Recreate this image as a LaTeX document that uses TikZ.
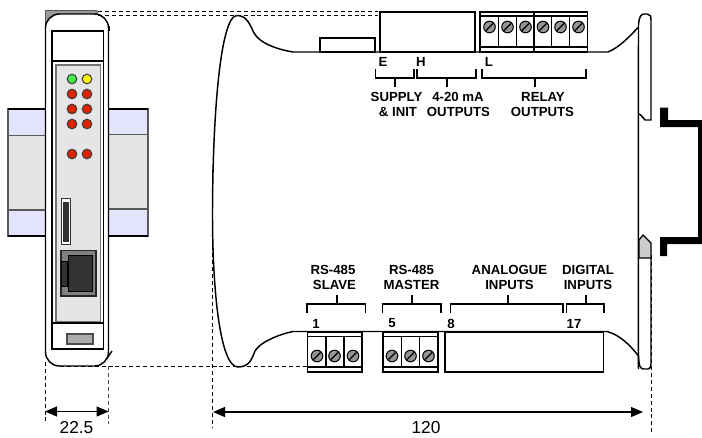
\documentclass[tikz,border=0pt]{standalone}
\usepackage{fontspec}
\setmainfont{Liberation Sans}
\usetikzlibrary{arrows.meta}
\newcommand{\screw}[2]{%
  \fill[black!42] (#1,#2) circle[radius=5.8];
  \draw[line width=0.75pt] (#1,#2) circle[radius=5.8];
  \draw[line width=0.9pt] (#1-3.6,#2+3.6) -- (#1+3.6,#2-3.6);}
\definecolor{ledred}{HTML}{DD2200}
\definecolor{ledgreen}{HTML}{44EE44}
\definecolor{wingblue}{HTML}{E3E3FB}
\tikzset{
  x=0.75pt,y=-0.75pt,
  body/.style={draw=black,line width=1.1pt},
  bracket/.style={draw=black,line width=0.85pt},
  dash line/.style={draw=black,line width=0.6pt,dash pattern=on 3pt off 2.2pt},
  lab/.style={font=\bfseries\fontsize{9.9}{11.2}\selectfont,align=center,inner sep=0pt},
  num/.style={font=\bfseries\fontsize{9.9}{11.2}\selectfont,inner sep=0pt},
  dim/.style={font=\fontsize{13}{14}\selectfont,inner sep=0pt},
  led/.style={draw=black!75,line width=0.8pt},
  dimarrow/.style={draw=black,line width=0.85pt,{Triangle[length=9pt,width=7.5pt]}-{Triangle[length=9pt,width=7.5pt]}},
}
\begin{document}
\begin{tikzpicture}
\useasboundingbox (0,0) rectangle (702,437);
% wings
\filldraw[fill=wingblue,draw=black!65,line width=0.9pt] (8,109) rectangle (46,236);
\filldraw[fill=black!10,draw=black!65,line width=0.9pt] (8,135.5) rectangle (46,210);
\draw[black,line width=0.9pt] (8,109)--(46,109) (8,236)--(46,236);
\filldraw[fill=wingblue,draw=black!65,line width=0.9pt] (108,109) rectangle (148,236);
\filldraw[fill=black!10,draw=black!65,line width=0.9pt] (108,134.5) rectangle (148,209);
\draw[black,line width=0.9pt] (108,109)--(148,109) (108,236)--(148,236);
% top tab
\filldraw[fill=black!40,draw=black!65,line width=0.6pt] (45.5,30)--(45.5,10.5)--(97,10.5)--(98,16)--(60,16)--cycle;
% front body
\filldraw[fill=white,draw=black,line width=1.1pt,rounded corners=10.5pt] (45.5,14) rectangle (108.5,366);
\draw[black,line width=0.8pt] (109.5,31)--(109.5,26);
\draw[black,line width=1pt] (112,351) .. controls (110,353) and (109,356) .. (107,359);
\draw[body] (52,31) rectangle (103.5,349);
\draw[body] (52,61)--(103.5,61);
\filldraw[fill=black!10,draw=black!55,line width=0.8pt] (56,65) rectangle (100.5,322);
\draw[body] (52,323)--(103.5,323);
\filldraw[fill=black!32,draw=black!70,line width=0.8pt] (67,334) rectangle (93,344);
% LEDs
\filldraw[led,fill=ledgreen] (72,79) circle[radius=4.8];
\filldraw[led,fill=yellow] (87,79) circle[radius=4.8];
\foreach \yy in {94,109,124,154}{
  \filldraw[led,fill=ledred] (72,\yy) circle[radius=4.8];
  \filldraw[led,fill=ledred] (87,\yy) circle[radius=4.8];}
% card slot
\filldraw[fill=white,draw=black!80,line width=0.7pt] (61.5,198.5) rectangle (70,244.5);
\fill[black!80] (62.5,202) rectangle (68.5,242);
% RJ45
\filldraw[fill=black!50,draw=black!85,line width=0.9pt] (61,250.5) rectangle (96,296);
\filldraw[fill=black!80,draw=black,line width=0.6pt] (68,255) rectangle (92,291);
\filldraw[fill=black!80,draw=black,line width=0.6pt] (61.5,261) rectangle (67.5,286);
% dashed guides
\coordinate (ta) at (98,11); \coordinate (tb) at (378,11);
\coordinate (tc) at (98,15.5); \coordinate (td) at (378,15.5);
\draw[dash line] (ta)--(tb) (tc)--(td);
\draw[dash line] (60,366)--(307,366);
\draw[dash line] (45.5,362)--(45.5,424);
\draw[dash line,draw=black!70] (108,366)--(108,424);
\draw[dash line] (212.5,170)--(212.5,428);
\draw[dash line] (651,255)--(651,432);
% side view outline
\draw[body] (212.5,215) .. controls (212.5,120) and (220,15.5) .. (237,15.5)
  .. controls (247,15.5) and (250,25) .. (254,33) .. controls (260,44) and (280,50) .. (293,52)
  -- (608,52) .. controls (620,47) and (630,36) .. (638.5,27);
\draw[body] (212.5,215) .. controls (212.5,290) and (220,367) .. (238,367)
  .. controls (250,367) and (252,358) .. (255,351) .. controls (260,342) and (280,334) .. (293,331.5)
  -- (607,331.5) .. controls (620,335) and (630,345) .. (638.5,356);
% flange
\draw[body] (638.5,369) .. controls (638,360) and (638.5,25) .. (638.5,25) .. controls (639,17) and (641,14) .. (644,14) -- (647,14) .. controls (650,14) and (651,16) .. (651,20) -- (651,120) -- (645,120) .. controls (643,118) and (641,114) .. (638.5,114);
\draw[body] (638.5,356) .. controls (639,366) and (640,369) .. (644,369) -- (648,369) .. controls (650,369) and (651,367) .. (651,364) -- (651,258);
\filldraw[fill=black!20,draw=black,line width=0.9pt] (639,258)--(639,240)--(643,235)--(651,243)--(651,258)--cycle;
% DIN rail
\fill[black] (660,107.5)--(668,107.5)--(668,120)--(702,120)--(702,244)--(667,244)--(667,256)--(660,256)--(660,237)--(698,237)--(698,127)--(660,127)--cycle;
% top boxes
\filldraw[fill=white,draw=black,line width=1.1pt] (320,38) rectangle (375,52);
\filldraw[fill=white,draw=black,line width=1.1pt] (380,12) rectangle (475,52);
% top terminal
\filldraw[fill=white,draw=black,line width=1.1pt] (480,12) rectangle (587.5,52);
\draw[body] (480,16)--(587.5,16) (480,47)--(587.5,47);
\foreach \xx in {498.5,516.5,534,551.5,569.5}{\draw[body] (\xx,16)--(\xx,47);}
\draw[body] (534,12)--(534,16) (534,47)--(534,52);
\foreach \xx in {489.5,507.5,525.5,543,560.5,578.5}{\screw{\xx}{27}}
% bottom terminals
\filldraw[fill=white,draw=black,line width=1.1pt] (307.5,332) rectangle (362,372);
\draw[body] (307.5,336.5)--(362,336.5) (307.5,367)--(362,367);
\draw[body] (326,336.5)--(326,367) (344,336.5)--(344,367);
\foreach \xx in {317,334.5,353}{\screw{\xx}{356}}
\filldraw[fill=white,draw=black,line width=1.1pt] (383,332) rectangle (438,372);
\draw[body] (383,336.5)--(438,336.5) (383,367)--(438,367);
\draw[body] (401.5,336.5)--(401.5,367) (419.5,336.5)--(419.5,367);
\foreach \xx in {392,410.5,428.5}{\screw{\xx}{356}}
\filldraw[fill=white,draw=black,line width=1.1pt] (445,332) rectangle (603.5,372);
% brackets top
\draw[bracket] (375.5,69)--(375.5,78)--(414,78)--(414,69) (395,78)--(395,87);
\draw[bracket] (417,69)--(417,78)--(476,78)--(476,69) (447,78)--(447,87);
\draw[bracket] (482,69)--(482,78)--(586,78)--(586,69) (535,78)--(535,87);
% brackets bottom
\draw[bracket] (307,313)--(307,304)--(365.5,304)--(365.5,313) (337,304)--(337,295);
\draw[bracket] (382.5,313)--(382.5,304)--(441,304)--(441,313) (412,304)--(412,295);
\draw[bracket] (450.5,313)--(450.5,304)--(563,304)--(563,313) (508,304)--(508,295);
\draw[bracket] (566.5,313)--(566.5,304)--(604,304)--(604,313) (586,304)--(586,295);
% labels
\node[num] (lE) at (383,62) {E};
\node[num] (lH) at (421,62) {H};
\node[num] (lL) at (489,61.5) {L};
\node[lab] (l1) at (396.5,97) {SUPPLY};
\node[lab] (l1b) at (398,112) {\& INIT};
\node[lab] (l2) at (458,97) {4-20 mA};
\node[lab] (l2b) at (458.5,112) {OUTPUTS};
\node[lab] (l3) at (543,97) {RELAY};
\node[lab] (l3b) at (542.5,112) {OUTPUTS};
\node[lab] (l4) at (333,269.5) {RS-485};
\node[lab] (l4b) at (334.5,285) {SLAVE};
\node[lab] (l5) at (411.5,269.5) {RS-485};
\node[lab] (l5b) at (411.5,285) {MASTER};
\node[lab] (l6) at (509.5,269.5) {ANALOGUE};
\node[lab] (l6b) at (509.5,285) {INPUTS};
\node[lab] (l7) at (588,269.5) {DIGITAL};
\node[lab] (l7b) at (588,285) {INPUTS};
\node[num] (n1) at (316,323.5) {1};
\node[num] (n5) at (392,323.5) {5};
\node[num] (n8) at (451,323.5) {8};
\node[num] (n17) at (574,323.5) {17};
% dimensions
\coordinate (da) at (45,411.5); \coordinate (db) at (108.5,411.5);
\coordinate (dc) at (213,412); \coordinate (dd) at (643,412);
\draw[dimarrow] (da)--(db);
\draw[dimarrow] (dc)--(dd);
\node[dim] (d1) at (76.5,428) {22.5};
\node[dim] (d2) at (426,428) {120};
\end{tikzpicture}
\end{document}
